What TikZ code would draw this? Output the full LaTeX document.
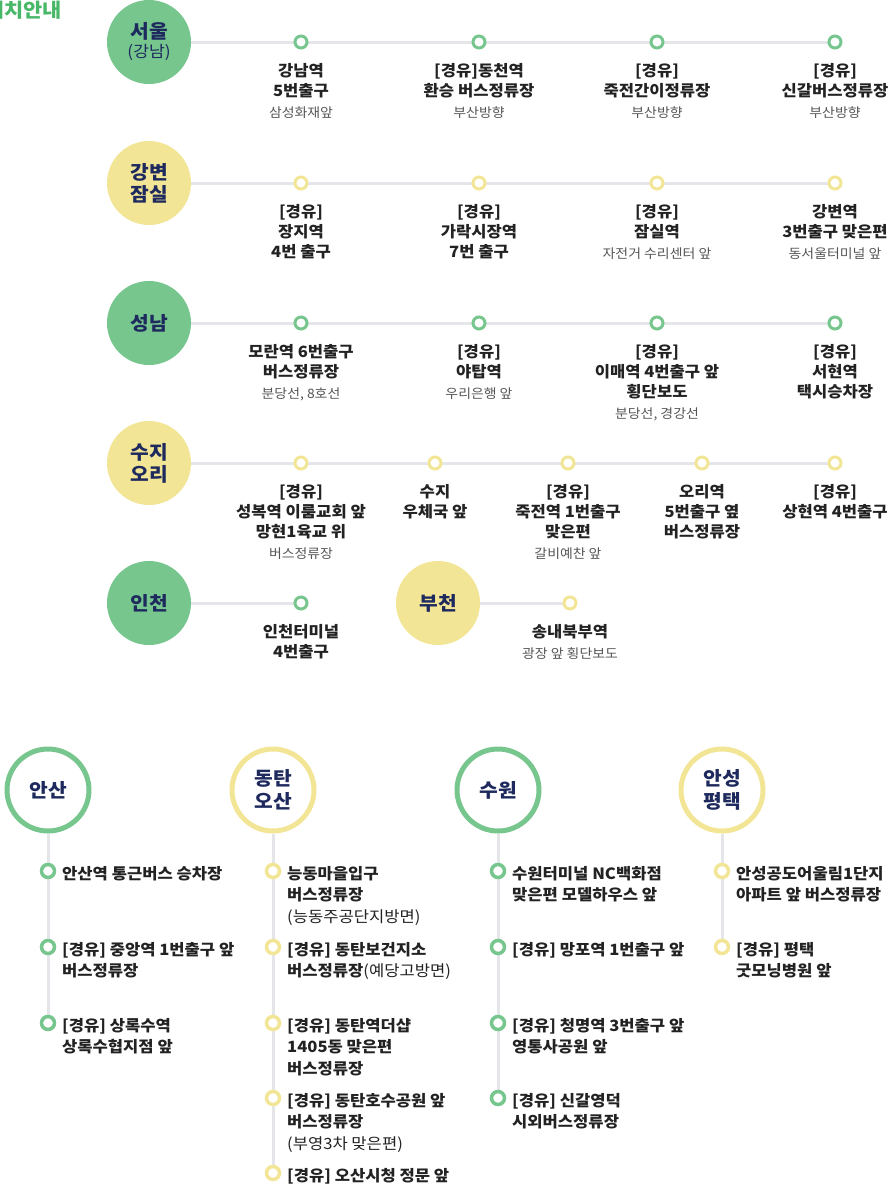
\documentclass[tikz,border=0pt]{standalone}
\usepackage{fontspec}
\setmainfont{Noto Sans CJK KR}[FakeStretch=1.07]
\usetikzlibrary{positioning,backgrounds}
\definecolor{leaf}{RGB}{118,198,142}
\definecolor{butter}{RGB}{243,229,150}
\definecolor{navy}{RGB}{30,42,94}
\definecolor{railgray}{RGB}{229,230,233}
\definecolor{ink}{RGB}{34,34,34}
\definecolor{subgray}{RGB}{85,85,85}
\definecolor{titlegreen}{RGB}{72,184,104}

\newcommand{\subl}[1]{{\mdseries\fontsize{13}{15}\selectfont\color{subgray}#1}}
\newcommand{\reg}[1]{{\mdseries #1}}

\begin{document}
\begin{tikzpicture}[x=1pt,y=-1pt,
    city/.style={circle,minimum size=84pt,inner sep=0pt,align=center,text=navy,font=\bfseries\fontsize{19}{22}\selectfont},
    cityg/.style={city,fill=leaf},
    cityy/.style={city,fill=butter},
    stopg/.style={circle,draw=leaf,line width=3pt,fill=white,minimum size=12pt,inner sep=0pt},
    stopy/.style={stopg,draw=butter},
    bstopg/.style={stopg,line width=3.5pt,minimum size=13pt},
    bstopy/.style={bstopg,draw=butter},
    rail/.style={draw=railgray,line width=3pt},
    lbl/.style={align=center,inner sep=0pt,text=ink,font=\bfseries\fontsize{15.5}{20}\selectfont},
    ring/.style={circle,line width=5pt,fill=white,minimum size=82pt,inner sep=0pt,align=center,text=navy,font=\bfseries\fontsize{19}{23}\selectfont},
    ringg/.style={ring,draw=leaf},
    ringy/.style={ring,draw=butter},
    blbl/.style={anchor=north west,align=left,inner sep=0pt,text=ink,font=\bfseries\fontsize{15.5}{21.5}\selectfont}]
\useasboundingbox (0,0) rectangle (891,1186);

% title, cut by the page edge
\node[anchor=base east,inner sep=0pt,text=titlegreen,font=\bfseries\fontsize{19.5}{20}\selectfont] (title) at (62,17.5) {위치안내};

% ---- seoul
\node[cityg] (seoul) at (149,42) {서울\\[-3pt]{\mdseries\fontsize{16}{18}\selectfont (강남)}};
\node[stopg] (s11) at (301,42) {};
\node[stopg] (s12) at (479,42) {};
\node[stopg] (s13) at (657,42) {};
\node[stopg] (s14) at (835,42) {};
\node[lbl,below=14pt of s11] (l11) {강남역\\5번출구\\[1pt]\subl{삼성화재앞}};
\node[lbl,below=14pt of s12] (l12) {[경유]동천역\\환승 버스정류장\\[1pt]\subl{부산방향}};
\node[lbl,below=14pt of s13] (l13) {[경유]\\죽전간이정류장\\[1pt]\subl{부산방향}};
\node[lbl,below=14pt of s14] (l14) {[경유]\\신갈버스정류장\\[1pt]\subl{부산방향}};

% ---- gangbyeon / jamsil
\node[cityy] (jamsil) at (149,183) {강변\\잠실};
\node[stopy] (s21) at (301,183) {};
\node[stopy] (s22) at (479,183) {};
\node[stopy] (s23) at (657,183) {};
\node[stopy] (s24) at (835,183) {};
\node[lbl,below=14pt of s21] (l21) {[경유]\\장지역\\4번 출구};
\node[lbl,below=14pt of s22] (l22) {[경유]\\가락시장역\\7번 출구};
\node[lbl,below=14pt of s23] (l23) {[경유]\\잠실역\\[1pt]\subl{자전거 수리센터 앞}};
\node[lbl,below=14pt of s24] (l24) {강변역\\3번출구 맞은편\\[1pt]\subl{동서울터미널 앞}};

% ---- seongnam
\node[cityg] (seongnam) at (149,323) {성남};
\node[stopg] (s31) at (301,323) {};
\node[stopg] (s32) at (479,323) {};
\node[stopg] (s33) at (657,323) {};
\node[stopg] (s34) at (835,323) {};
\node[lbl,below=14pt of s31] (l31) {모란역 6번출구\\버스정류장\\[1pt]\subl{분당선, 8호선}};
\node[lbl,below=14pt of s32] (l32) {[경유]\\야탑역\\[1pt]\subl{우리은행 앞}};
\node[lbl,below=14pt of s33] (l33) {[경유]\\이매역 4번출구 앞\\횡단보도\\[1pt]\subl{분당선, 경강선}};
\node[lbl,below=14pt of s34] (l34) {[경유]\\서현역\\택시승차장};

% ---- suji / ori
\node[cityy] (suji) at (149,463) {수지\\오리};
\node[stopy] (s41) at (301,463) {};
\node[stopy] (s42) at (435,463) {};
\node[stopy] (s43) at (568,463) {};
\node[stopy] (s44) at (702,463) {};
\node[stopy] (s45) at (835,463) {};
\node[lbl,below=14pt of s41] (l41) {[경유]\\성복역 이룸교회 앞\\망현1육교 위\\[1pt]\subl{버스정류장}};
\node[lbl,below=14pt of s42] (l42) {수지\\우체국 앞};
\node[lbl,below=14pt of s43] (l43) {[경유]\\죽전역 1번출구\\맞은편\\[1pt]\subl{갈비예찬 앞}};
\node[lbl,below=14pt of s44] (l44) {오리역\\5번출구 옆\\버스정류장};
\node[lbl,below=14pt of s45] (l45) {[경유]\\상현역 4번출구};

% ---- incheon, bucheon
\node[cityg] (incheon) at (149,603) {인천};
\node[stopg] (s51) at (301,603) {};
\node[lbl,below=14pt of s51] (l51) {인천터미널\\4번출구};
\node[cityy] (bucheon) at (438,603) {부천};
\node[stopy] (s52) at (570,603) {};
\node[lbl,below=14pt of s52] (l52) {송내북부역\\[1pt]\subl{광장 앞 횡단보도}};

% ---- ansan
\node[ringg] (ansan) at (48,790) {안산};
\node[bstopg] (a1) at (48,871) {};
\node[bstopg] (a2) at (48,947) {};
\node[bstopg] (a3) at (48,1023) {};
\node[blbl] (ta1) at ([xshift=14pt,yshift=5pt]a1.center) {안산역 통근버스 승차장};
\node[blbl] (ta2) at ([xshift=14pt,yshift=5pt]a2.center) {[경유] 중앙역 1번출구 앞\\버스정류장};
\node[blbl] (ta3) at ([xshift=14pt,yshift=5pt]a3.center) {[경유] 상록수역\\상록수협지점 앞};

% ---- dongtan / osan
\node[ringy] (dongtan) at (273,790) {동탄\\오산};
\node[bstopy] (d1) at (273,871) {};
\node[bstopy] (d2) at (273,947) {};
\node[bstopy] (d3) at (273,1023) {};
\node[bstopy] (d4) at (273,1098) {};
\node[bstopy] (d5) at (273,1173) {};
\node[blbl] (td1) at ([xshift=14pt,yshift=5pt]d1.center) {능동마을입구\\버스정류장\\\reg{(능동주공단지방면)}};
\node[blbl] (td2) at ([xshift=14pt,yshift=5pt]d2.center) {[경유] 동탄보건지소\\버스정류장\reg{(예당고방면)}};
\node[blbl] (td3) at ([xshift=14pt,yshift=5pt]d3.center) {[경유] 동탄역더샵\\1405동 맞은편\\버스정류장};
\node[blbl] (td4) at ([xshift=14pt,yshift=5pt]d4.center) {[경유] 동탄호수공원 앞\\버스정류장\\\reg{(부영3차 맞은편)}};
\node[blbl] (td5) at ([xshift=14pt,yshift=5pt]d5.center) {[경유] 오산시청 정문 앞};

% ---- suwon
\node[ringg] (suwon) at (498,790) {수원};
\node[bstopg] (w1) at (498,871) {};
\node[bstopg] (w2) at (498,947) {};
\node[bstopg] (w3) at (498,1023) {};
\node[bstopg] (w4) at (498,1098) {};
\node[blbl] (tw1) at ([xshift=14pt,yshift=5pt]w1.center) {수원터미널 NC백화점\\맞은편 모델하우스 앞};
\node[blbl] (tw2) at ([xshift=14pt,yshift=5pt]w2.center) {[경유] 망포역 1번출구 앞};
\node[blbl] (tw3) at ([xshift=14pt,yshift=5pt]w3.center) {[경유] 청명역 3번출구 앞\\영통사공원 앞};
\node[blbl] (tw4) at ([xshift=14pt,yshift=5pt]w4.center) {[경유] 신갈영덕\\시외버스정류장};

% ---- anseong / pyeongtaek
\node[ringy] (anseong) at (722,790) {안성\\평택};
\node[bstopy] (p1) at (722,871) {};
\node[bstopy] (p2) at (722,947) {};
\node[blbl] (tp1) at ([xshift=14pt,yshift=5pt]p1.center) {안성공도어울림1단지\\아파트 앞 버스정류장};
\node[blbl] (tp2) at ([xshift=14pt,yshift=5pt]p2.center) {[경유] 평택\\굿모닝병원 앞};

% rails behind everything
\begin{scope}[on background layer]
\draw[rail] (seoul) -- (s14);
\draw[rail] (jamsil) -- (s24);
\draw[rail] (seongnam) -- (s34);
\draw[rail] (suji) -- (s45);
\draw[rail] (incheon) -- (s51);
\draw[rail] (bucheon) -- (s52);
\draw[rail] (ansan) -- (a3);
\draw[rail] (dongtan) -- (d5);
\draw[rail] (suwon) -- (w4);
\draw[rail] (anseong) -- (p2);
\end{scope}
\end{tikzpicture}
\end{document}
